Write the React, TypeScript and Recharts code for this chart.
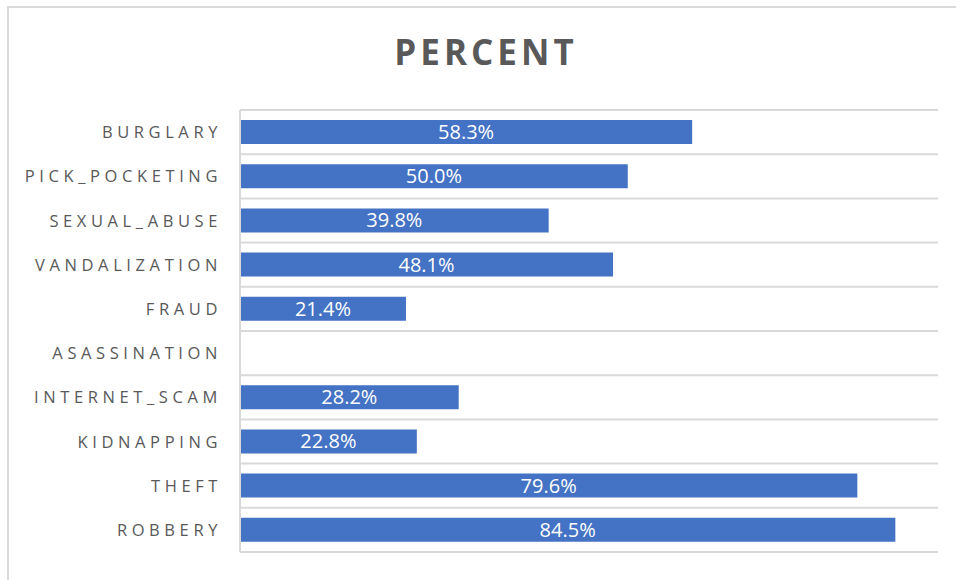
import { BarChart, Bar, XAxis, YAxis, CartesianGrid, LabelList } from 'recharts';

const categories = [
  'BURGLARY',
  'PICK_POCKETING',
  'SEXUAL_ABUSE',
  'VANDALIZATION',
  'FRAUD',
  'ASASSINATION',
  'INTERNET_SCAM',
  'KIDNAPPING',
  'THEFT',
  'ROBBERY',
];
const percents = [58.3, 50.0, 39.8, 48.1, 21.4, 0, 28.2, 22.8, 79.6, 84.5];

const data = categories.map((name, i) => ({ name, value: percents[i] }));

const FONT = '"Open Sans", sans-serif';
const GREY = '#595959';

function CategoryTick(props: any) {
  const { x, y, payload } = props;
  return (
    <text
      x={x}
      y={y}
      dy={6}
      textAnchor="end"
      fill={GREY}
      fontSize={16.5}
      fontFamily={FONT}
      letterSpacing={4.6}
    >
      {payload.value}
    </text>
  );
}

function ValueLabel(props: any) {
  const { x, y, width, height, value } = props;
  if (!value) return null;
  return (
    <text
      x={x + width / 2}
      y={y + height / 2}
      dy={7}
      textAnchor="middle"
      fill="#ffffff"
      fontSize={20}
      fontFamily={FONT}
    >
      {value.toFixed(1)}%
    </text>
  );
}

export default function App() {
  return (
    <div
      style={{
        position: 'fixed',
        left: 0,
        top: 0,
        width: 956,
        height: 580,
        background: '#fff',
      }}
    >
      <div
        style={{
          position: 'absolute',
          left: 7,
          top: 6,
          width: 960,
          height: 590,
          border: '2px solid #d9d9d9',
        }}
      />
      <div
        style={{
          position: 'absolute',
          left: 0,
          top: 28,
          width: 972,
          textAlign: 'center',
          fontFamily: FONT,
          fontWeight: 700,
          fontSize: 35,
          letterSpacing: 4,
          color: GREY,
        }}
      >
        PERCENT
      </div>
      <div style={{ position: 'absolute', left: 0, top: 0 }}>
        <BarChart
          width={956}
          height={580}
          data={data}
          layout="vertical"
          barSize={24}
          margin={{ top: 110, right: 18, bottom: 28, left: 8 }}
        >
          <CartesianGrid
            horizontal
            vertical={false}
            stroke="#d9d9d9"
            strokeWidth={2}
            horizontalCoordinatesGenerator={({ offset }: any) =>
              categories
                .map((_, i) => offset.top + (offset.height * i) / categories.length)
                .concat(offset.top + offset.height)
            }
          />
          <XAxis type="number" domain={[0, 90]} hide />
          <YAxis
            type="category"
            dataKey="name"
            width={232}
            tickSize={0}
            tickMargin={18}
            axisLine={{ stroke: '#d9d9d9', strokeWidth: 2 }}
            tickLine={false}
            tick={<CategoryTick />}
            interval={0}
          />
          <Bar dataKey="value" fill="#4472C4" isAnimationActive={false}>
            <LabelList dataKey="value" content={<ValueLabel />} />
          </Bar>
        </BarChart>
      </div>
    </div>
  );
}
